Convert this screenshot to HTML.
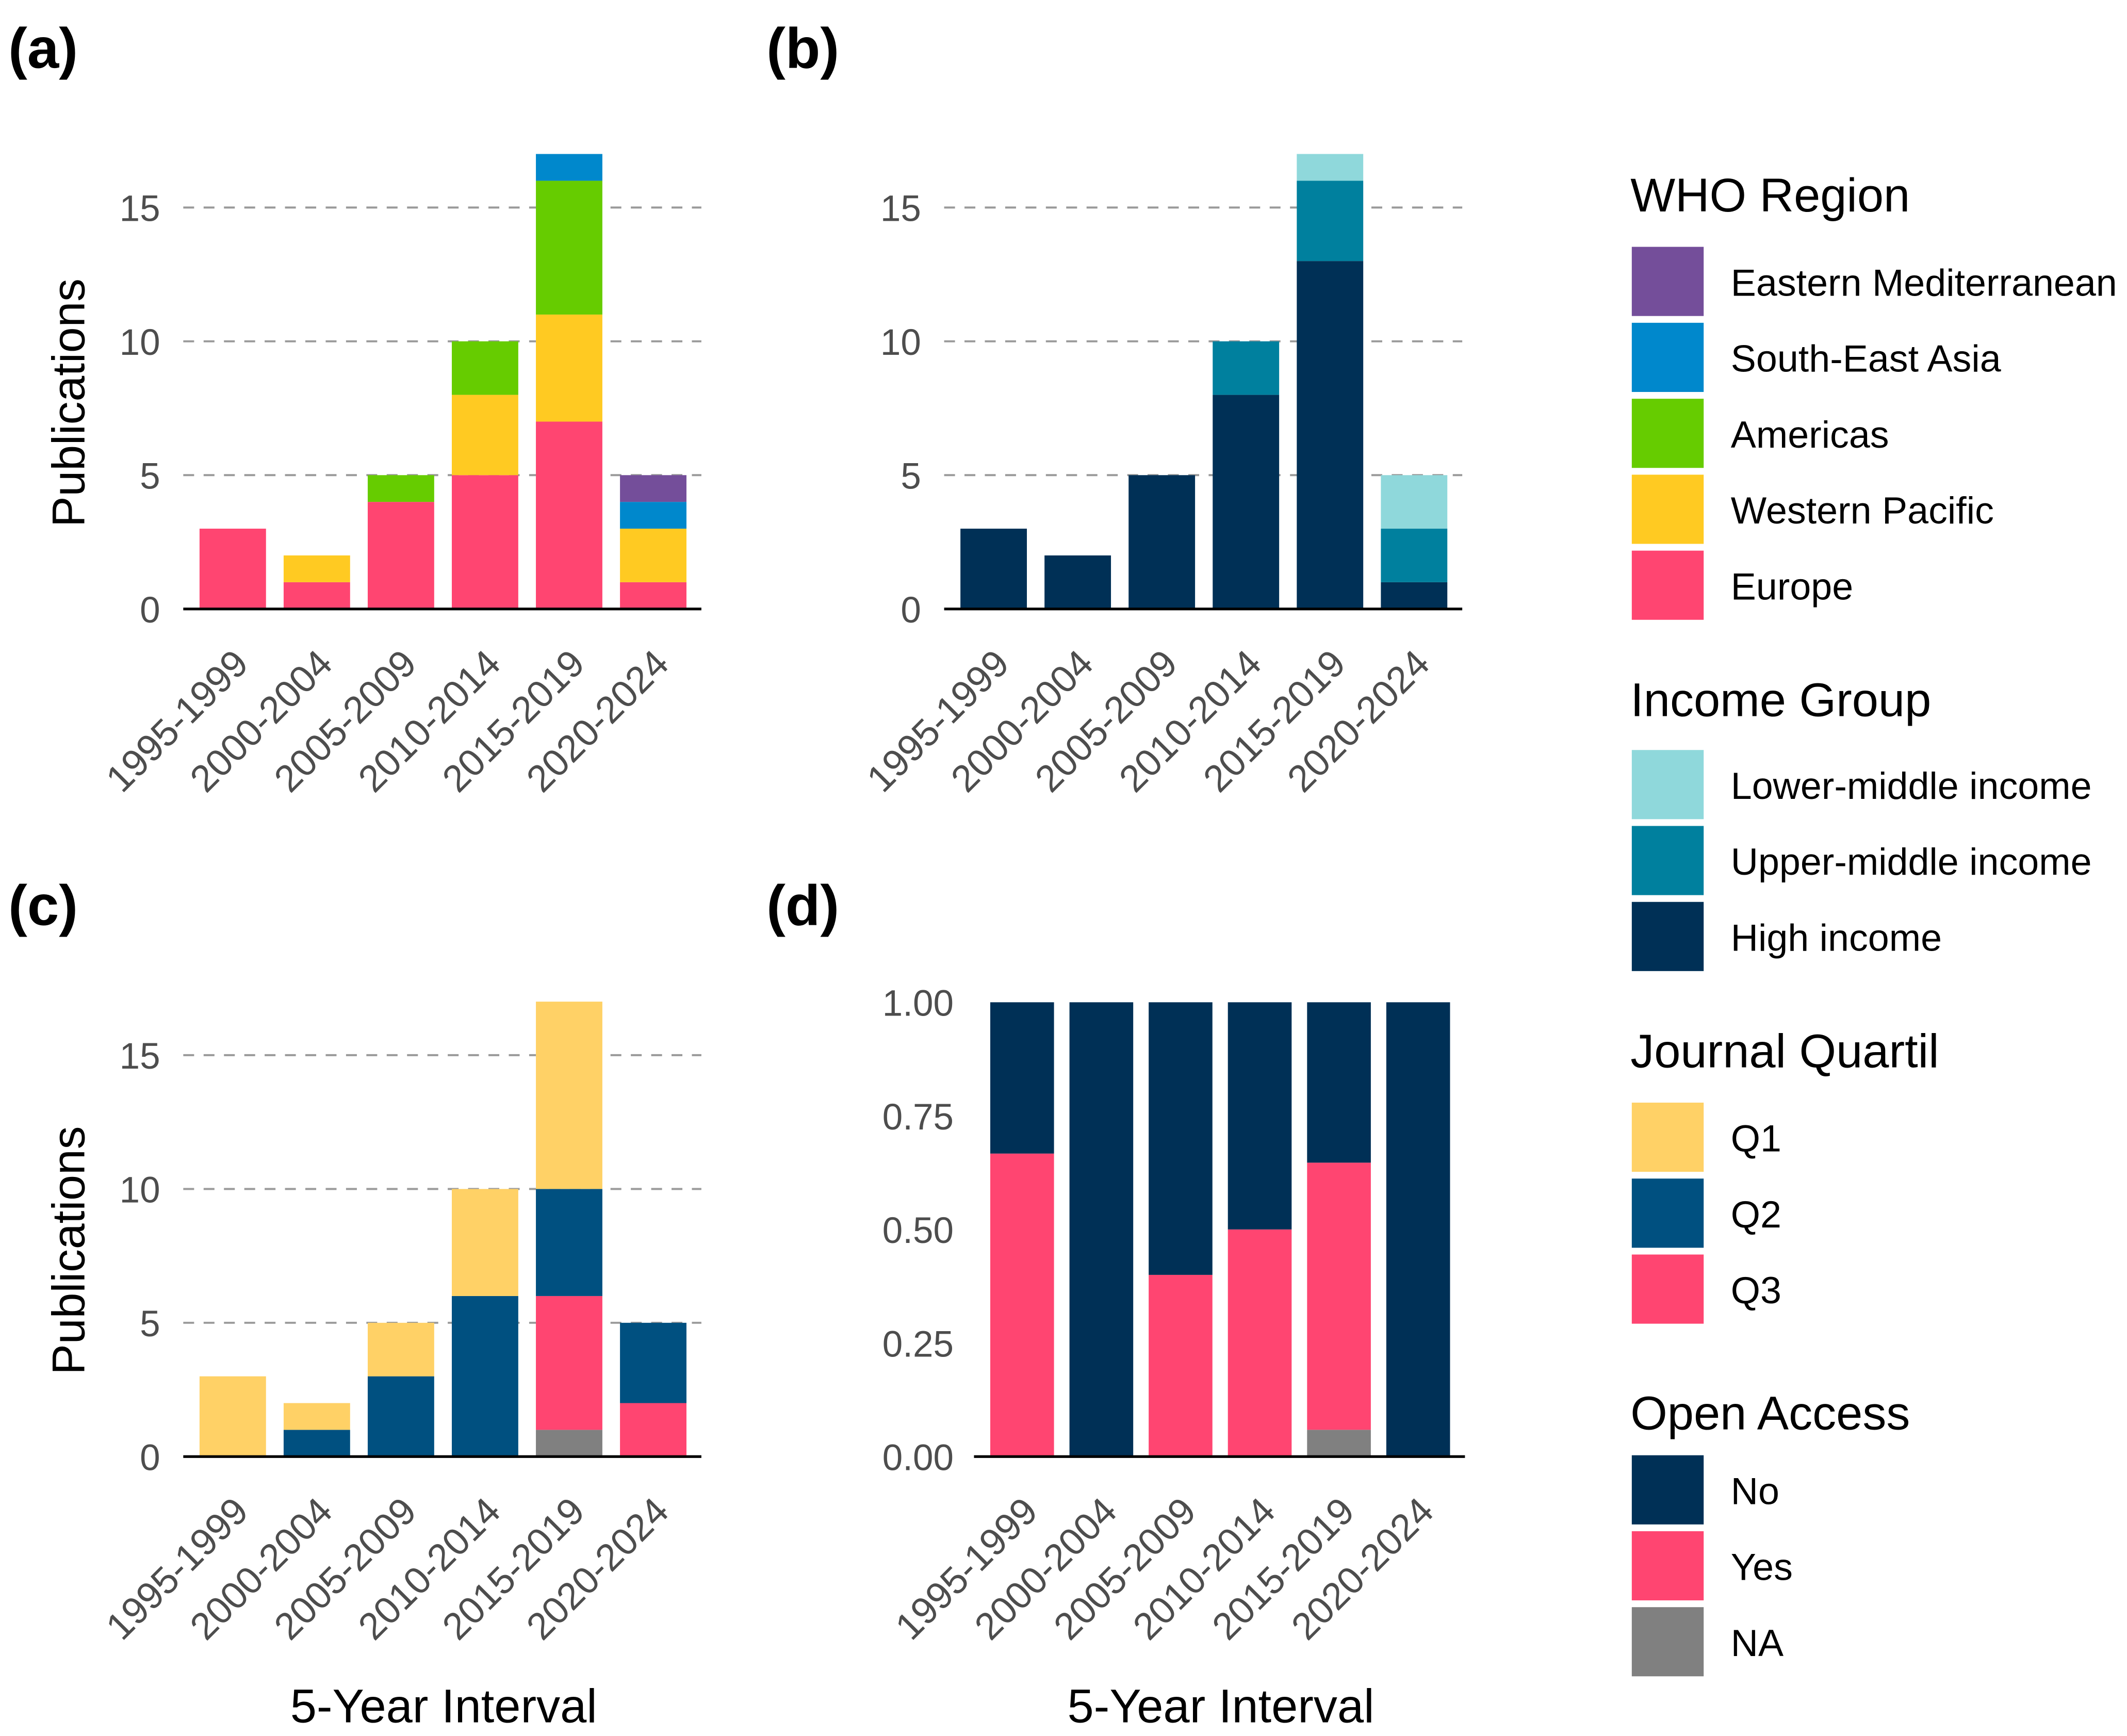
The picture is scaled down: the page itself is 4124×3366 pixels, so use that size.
<!DOCTYPE html>
<html><head><meta charset="utf-8">
<style>
html,body{margin:0;padding:0;background:#fff;}
svg{display:block;}
text{font-family:"Liberation Sans",sans-serif;}
</style></head>
<body>
<svg id="fig" width="4124" height="3366" viewBox="0 0 1568 1280" xmlns="http://www.w3.org/2000/svg">
<rect x="0" y="0" width="1568" height="1280" fill="#fff"/>
<g id="panels"></g>
<g id="legend"></g>
</svg>
<script>
const categories = ["1995-1999","2000-2004","2005-2009","2010-2014","2015-2019","2020-2024"];
// Panel a: WHO region (stack bottom->top)
const aEurope = [3,1,4,5,7,1];
const aWesternPacific = [0,1,0,3,4,2];
const aAmericas = [0,0,1,2,5,0];
const aSouthEastAsia = [0,0,0,0,1,1];
const aEasternMed = [0,0,0,0,0,1];
// Panel b: income group
const bHigh = [3,2,5,8,13,1];
const bUpperMiddle = [0,0,0,2,3,2];
const bLowerMiddle = [0,0,0,0,1,2];
// Panel c: journal quartile
const cNA = [0,0,0,0,1,0];
const cQ3 = [0,0,0,0,5,2];
const cQ2 = [0,1,3,6,4,3];
const cQ1 = [3,1,2,4,7,0];
// Panel d: open access proportions
const dNA = [0,0,0,0,0.059,0];
const dYes = [0.667,0,0.4,0.5,0.588,0];
const dNo = [0.333,1,0.6,0.5,0.353,1];
const countTicks = [0,5,10,15];
const propTicks = [0,0.25,0.5,0.75,1];
const propTickLabels = ["0.00","0.25","0.50","0.75","1.00"];

const C = {eur:"#ff4571",wp:"#ffca22",am:"#66cc00",sea:"#0088cc",em:"#744e9a",
  hi:"#003056",um:"#00809e",lm:"#8fd8db",q1:"#ffd166",q2:"#005080",q3:"#ff4571",
  no:"#003056",yes:"#ff4571",na:"#808080"};

const NS="http://www.w3.org/2000/svg";
function mk(tag,attrs,parent,txt){const e=document.createElementNS(NS,tag);for(const k in attrs)e.setAttribute(k,attrs[k]);if(txt!==undefined)e.textContent=txt;parent.appendChild(e);return e;}

const panelsG=document.getElementById('panels');
function panel(opt){
  const g=mk('g',{},panelsG);
  
  
  const y=v=>opt.y0-(v-0)*(opt.y0-opt.yTop)/(opt.vTop);
  const x=i=>opt.barStart+i*opt.step;
  if(opt.grid){opt.ticks.forEach(t=>{if(t===0)return;
    const l=mk('line',{x1:opt.x0,x2:opt.x1,y1:y(t),y2:y(t),stroke:'#9a9a9a','stroke-width':1.5,'stroke-dasharray':'8,7'},g);
    
    
  });}
  opt.ticks.forEach((t,i)=>{
    const tx=mk('text',{x:opt.labelX,y:y(t)+10,'text-anchor':'end','font-size':27,fill:'#4d4d4d'},g,opt.tickLabels?opt.tickLabels[i]:String(t));
    
    
  });
  categories.forEach((c,i)=>{
    let base=0;
    opt.series.forEach(s=>{
      const v=s.vals[i];
      if(v>0){
        const r=mk('rect',{x:x(i),y:y(base+v),width:opt.bw,height:y(base)-y(base+v),fill:s.color},g);
        
        
      }
      base+=v;
    });
    const cx=x(i)+opt.bw/2+13, cy=opt.y0+42;
    const tx=mk('text',{x:cx,y:cy,'text-anchor':'end','font-size':28,fill:'#4d4d4d',transform:`rotate(-45 ${cx} ${cy})`},g,c);
    
    
  });
  const bl=mk('line',{x1:opt.x0,x2:opt.x1,y1:opt.y0,y2:opt.y0,stroke:'#000','stroke-width':2},g);
  
  
  const pl=mk('text',{x:opt.plx,y:opt.ply,'font-size':42,'font-weight':'bold',fill:'#000'},g,opt.label);
  
  
  if(opt.ytitle){
    const t=mk('text',{x:0,y:0,'font-size':34,fill:'#000','text-anchor':'middle',transform:`translate(62 ${opt.y0-152}) rotate(-90)`},g,opt.ytitle);
    
    
  }
  if(opt.xtitle){
    const t=mk('text',{x:opt.xtx,y:1270,'font-size':35,fill:'#000','text-anchor':'middle'},g,opt.xtitle);
    
    
  }
}
panel({name:'panel-a-who-region',label:'(a)',plx:6,ply:50,x0:135,x1:517,y0:449,yTop:153,vTop:15,ticks:countTicks,labelX:118,grid:true,ytitle:'Publications',barStart:147,step:62,bw:49,
  series:[{key:'europe',vals:aEurope,color:C.eur},{key:'western-pacific',vals:aWesternPacific,color:C.wp},{key:'americas',vals:aAmericas,color:C.am},{key:'south-east-asia',vals:aSouthEastAsia,color:C.sea},{key:'eastern-med',vals:aEasternMed,color:C.em}]});
panel({name:'panel-b-income-group',label:'(b)',plx:565,ply:50,x0:696,x1:1078,y0:449,yTop:153,vTop:15,ticks:countTicks,labelX:679,grid:true,barStart:708,step:62,bw:49,
  series:[{key:'high',vals:bHigh,color:C.hi},{key:'upper-middle',vals:bUpperMiddle,color:C.um},{key:'lower-middle',vals:bLowerMiddle,color:C.lm}]});
panel({name:'panel-c-journal-quartile',label:'(c)',plx:6,ply:682,x0:135,x1:517,y0:1074,yTop:778,vTop:15,ticks:countTicks,labelX:118,grid:true,ytitle:'Publications',xtitle:'5-Year Interval',xtx:327,barStart:147,step:62,bw:49,
  series:[{key:'na',vals:cNA,color:C.na},{key:'q3',vals:cQ3,color:C.q3},{key:'q2',vals:cQ2,color:C.q2},{key:'q1',vals:cQ1,color:C.q1}]});
panel({name:'panel-d-open-access',label:'(d)',plx:565,ply:682,x0:718,x1:1080,y0:1074,yTop:739,vTop:1,ticks:propTicks,tickLabels:propTickLabels,labelX:703,grid:false,xtitle:'5-Year Interval',xtx:900,barStart:730,step:58.4,bw:47,
  series:[{key:'na',vals:dNA,color:C.na},{key:'yes',vals:dYes,color:C.yes},{key:'no',vals:dNo,color:C.no}]});

const legendG=document.getElementById('legend');
const legends=[
  {title:'WHO Region',ty:156,top:182,items:[['Eastern Mediterranean',C.em],['South-East Asia',C.sea],['Americas',C.am],['Western Pacific',C.wp],['Europe',C.eur]]},
  {title:'Income Group',ty:528,top:553,items:[['Lower-middle income',C.lm],['Upper-middle income',C.um],['High income',C.hi]]},
  {title:'Journal Quartil',ty:787,top:813,items:[['Q1',C.q1],['Q2',C.q2],['Q3',C.q3]]},
  {title:'Open Access',ty:1054,top:1073,items:[['No',C.no],['Yes',C.yes],['NA',C.na]]}
];
legends.forEach(L=>{
  const t=mk('text',{x:1202,y:L.ty,'font-size':35,fill:'#000'},legendG,L.title);
  
  
  L.items.forEach((it,i)=>{
    const yy=L.top+i*56;
    const r=mk('rect',{x:1203,y:yy,width:53,height:51,fill:it[1]},legendG);
    
    
    const tx=mk('text',{x:1276,y:yy+36,'font-size':28,fill:'#000'},legendG,it[0]);
    
    
  });
});
</script>
</body></html>
